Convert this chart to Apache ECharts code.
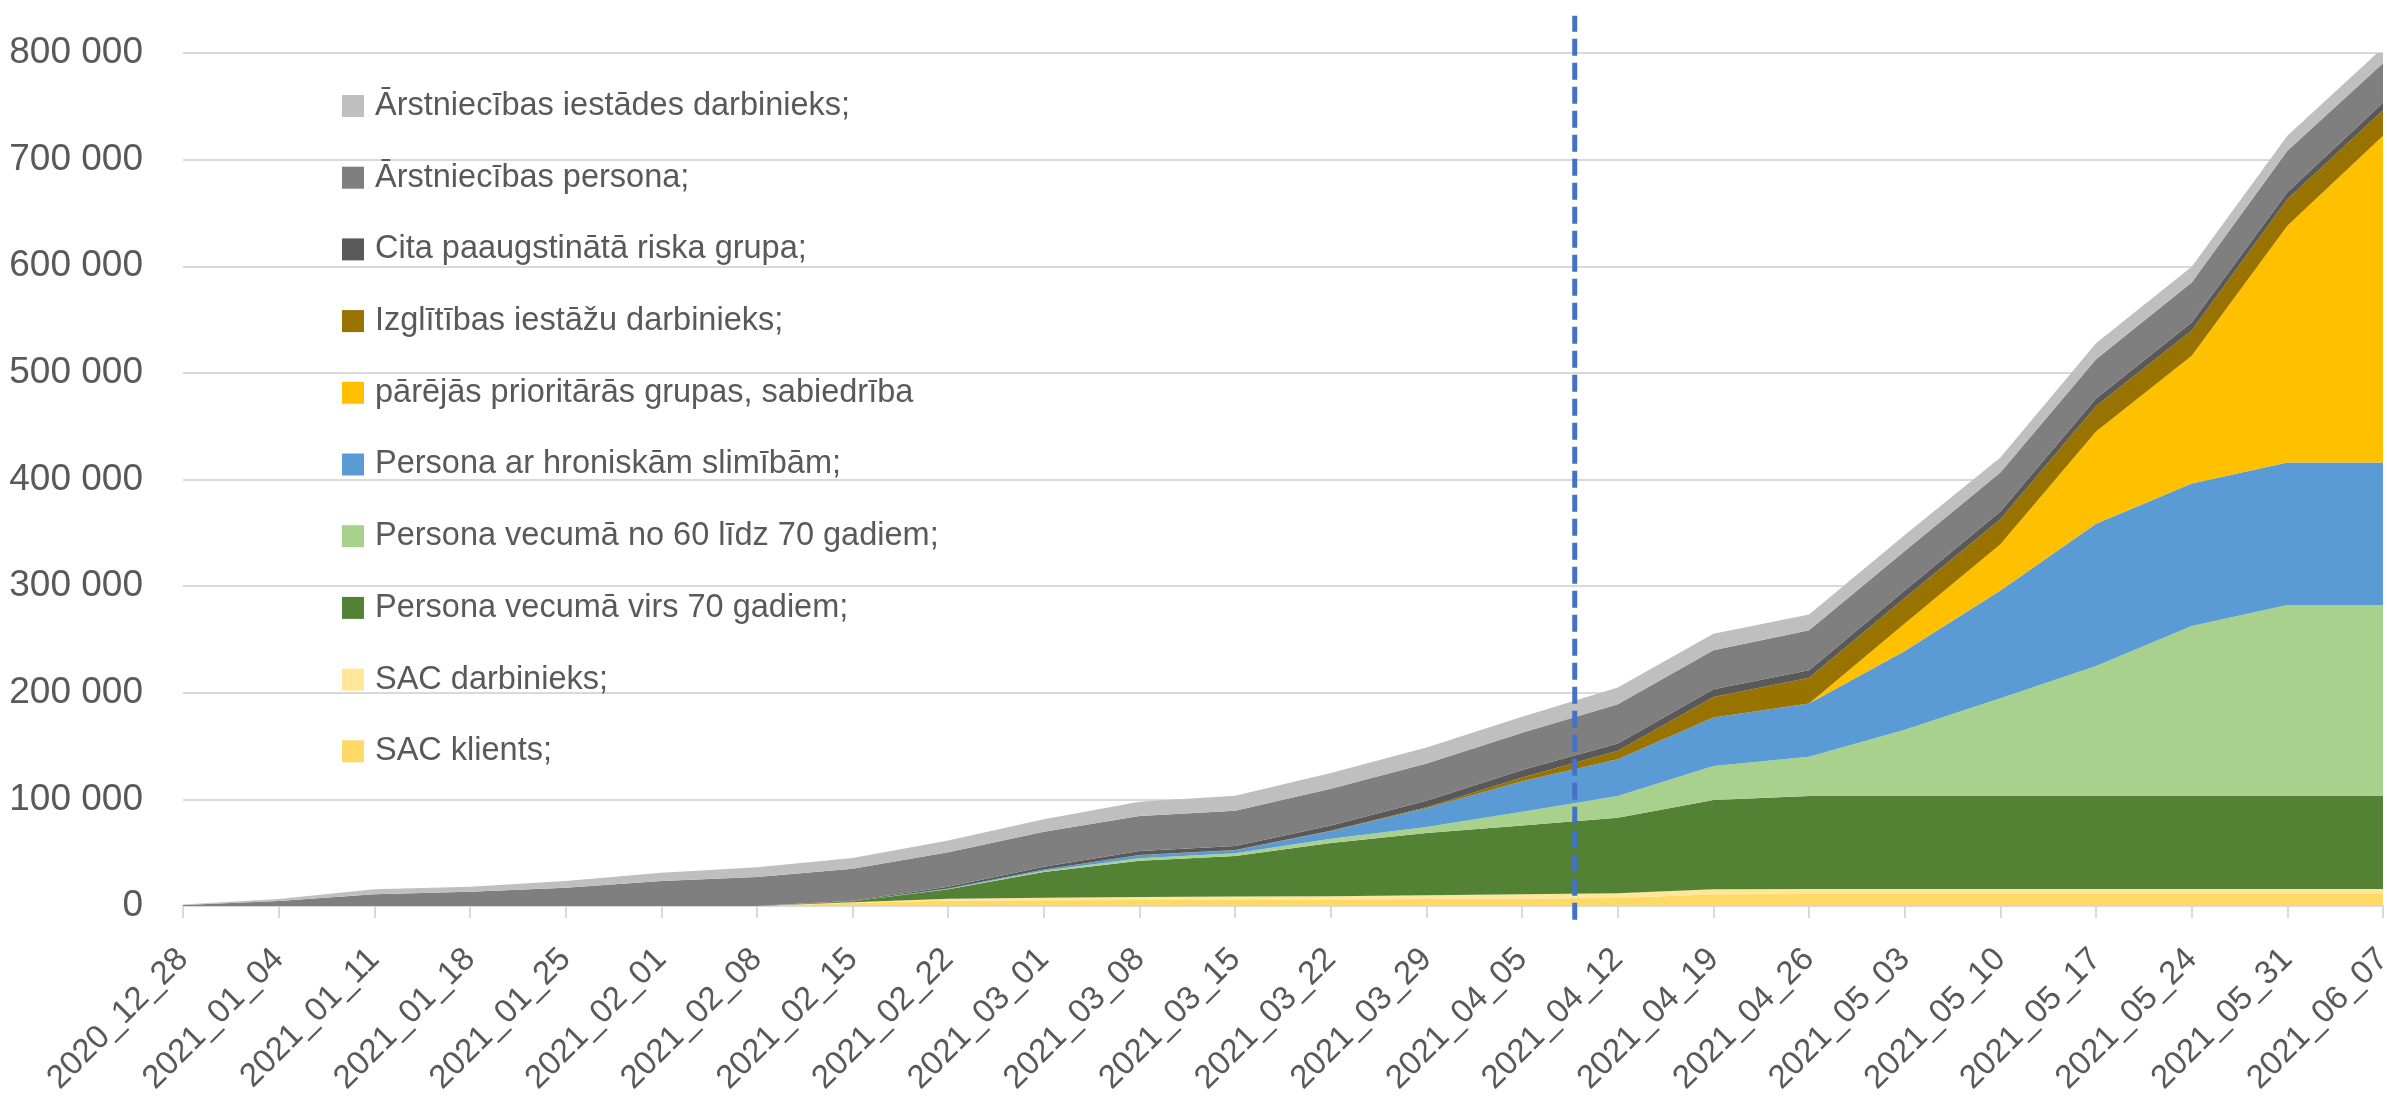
<!DOCTYPE html>
<html>
<head>
<meta charset="utf-8">
<script src="https://cdn.jsdelivr.net/npm/echarts@6/dist/echarts.min.js"></script>
<style>
  html, body { margin: 0; padding: 0; background: #ffffff; }
  #chart { width: 2387px; height: 1105px; }
</style>
</head>
<body>
<div id="chart"></div>
<script>
// ---- Data ----
const categories = ["2020_12_28","2021_01_04","2021_01_11","2021_01_18","2021_01_25","2021_02_01","2021_02_08","2021_02_15","2021_02_22","2021_03_01","2021_03_08","2021_03_15","2021_03_22","2021_03_29","2021_04_05","2021_04_12","2021_04_19","2021_04_26","2021_05_03","2021_05_10","2021_05_17","2021_05_24","2021_05_31","2021_06_07"];

// Stack order bottom -> top
const sacKlients      = [0,0,0,0,0,0,0,3000,5000,5500,5600,5800,6000,6500,7000,7500,11000,11300,11300,11300,11300,11300,11300,11300];
const sacDarbinieks   = [0,0,0,0,0,0,0,500,1800,2300,2800,3000,3200,3500,4000,4500,4600,4700,4700,4700,4700,4700,4700,4700];
const virs70          = [0,0,0,0,0,0,0,1000,8800,24100,34100,38100,49800,58500,64500,70800,83900,87200,87200,87200,87200,87200,87200,87200];
const no60lidz70      = [0,0,0,0,0,0,0,0,400,1100,2200,2500,4000,5600,13000,20400,31800,36800,62100,91600,121900,159500,179200,179200];
const hroniskas       = [0,0,0,0,0,0,0,0,500,1300,2800,2800,7000,17500,28500,34400,45400,50000,73900,101200,133500,133500,133500,133500];
const parejas         = [0,0,0,0,0,0,0,0,0,0,0,0,0,0,0,0,0,0,25800,43300,86400,119800,222100,306400];
const izglitibas      = [0,0,0,0,0,0,0,0,0,0,300,300,500,1000,3500,8000,19400,24000,23800,23500,24000,23800,24900,24100];
const cita            = [0,0,0,0,0,0,0,500,1500,2600,3800,3800,5000,6000,7000,6800,7200,7000,7200,7200,7000,7500,6500,7000];
const arstPersona     = [1000,4700,11000,13400,17200,23400,27200,30000,32500,32800,32800,33000,34500,35000,35000,36900,36600,37500,37000,36600,36700,37500,39000,37000];
const arstIestades    = [500,1900,4600,4600,6200,7800,9100,10000,10900,11600,13400,14000,14700,15000,15000,15600,15500,15000,15000,14000,15000,14800,14100,14500];

const seriesNames = [
  "SAC klients;",
  "SAC darbinieks;",
  "Persona vecumā virs 70 gadiem;",
  "Persona vecumā no 60 līdz 70 gadiem;",
  "Persona ar hroniskām slimībām;",
  "pārējās prioritārās grupas, sabiedrība",
  "Izglītības iestāžu darbinieks;",
  "Cita paaugstinātā riska grupa;",
  "Ārstniecības persona;",
  "Ārstniecības iestādes darbinieks;"
];
const seriesValues = [sacKlients, sacDarbinieks, virs70, no60lidz70, hroniskas, parejas, izglitibas, cita, arstPersona, arstIestades];
const seriesColors = ["#FFD966","#FFE699","#548235","#A9D18E","#5B9BD5","#FFC000","#997300","#595959","#7F7F7F","#BFBFBF"];

const yTicks = { min: 0, max: 800000, interval: 100000 };
// vertical dashed marker between 2021_04_05 and 2021_04_12 (category index units)
const markerIndex = 14.55;
const markerRange = [-13000, 835000];

// ---- Chart ----
const FONT = "'Liberation Sans', Arial, sans-serif";
const TEXT = "#595959";
const GRIDC = "#D9D9D9";

const chart = echarts.init(document.getElementById('chart'), null, { renderer: 'canvas' });

const areaSeries = seriesNames.map((name, i) => ({
  name: name,
  type: 'line',
  stack: 'total',
  data: seriesValues[i],
  symbol: 'none',
  showSymbol: false,
  lineStyle: { width: 0 },
  itemStyle: { color: seriesColors[i] },
  color: seriesColors[i],
  areaStyle: { color: seriesColors[i], opacity: 1 },
  z: 2
}));

areaSeries.push({
  name: 'marker',
  type: 'line',
  xAxisIndex: 1,
  yAxisIndex: 0,
  data: [[markerIndex, markerRange[0]], [markerIndex, markerRange[1]]],
  symbol: 'none',
  clip: false,
  silent: true,
  lineStyle: { color: '#4472C4', width: 5, type: [17, 7] },
  z: 5
});

chart.setOption({
  animation: false,
  backgroundColor: '#ffffff',
  textStyle: { fontFamily: FONT },
  grid: { left: 183, right: 4, top: 53, bottom: 199, containLabel: false, outerBoundsMode: 'none' },
  legend: {
    orient: 'vertical',
    left: 337,
    top: 83,
    itemWidth: 22,
    itemHeight: 22,
    itemGap: 35.7,
    icon: 'rect',
    data: seriesNames.slice().reverse(),
    textStyle: { fontSize: 32.5, color: TEXT, fontFamily: FONT, lineHeight: 36, padding: [0, 0, 0, 6] },
    itemStyle: { borderWidth: 0 },
    selectedMode: false
  },
  xAxis: [{
    type: 'category',
    data: categories,
    boundaryGap: false,
    axisLine: { show: true, lineStyle: { color: GRIDC, width: 2 } },
    axisTick: { show: true, interval: 0, length: 12, lineStyle: { color: GRIDC, width: 2 } },
    axisLabel: {
      interval: 0, rotate: 45, fontSize: 33, color: TEXT, fontFamily: FONT,
      margin: 48, align: 'right', verticalAlign: 'middle', padding: [90, 0, 0, 0], hideOverlap: false
    },
    splitLine: { show: false }
  }, {
    type: 'value',
    min: 0,
    max: categories.length - 1,
    show: false
  }],
  yAxis: {
    type: 'value',
    min: yTicks.min,
    max: yTicks.max,
    interval: yTicks.interval,
    axisLine: { show: false },
    axisTick: { show: false },
    axisLabel: {
      fontSize: 37, color: TEXT, fontFamily: FONT, margin: 40,
      formatter: v => String(v).replace(/\B(?=(\d{3})+(?!\d))/g, ' ')
    },
    splitLine: { show: true, lineStyle: { color: GRIDC, width: 2 } }
  },
  series: areaSeries
});
</script>
</body>
</html>
